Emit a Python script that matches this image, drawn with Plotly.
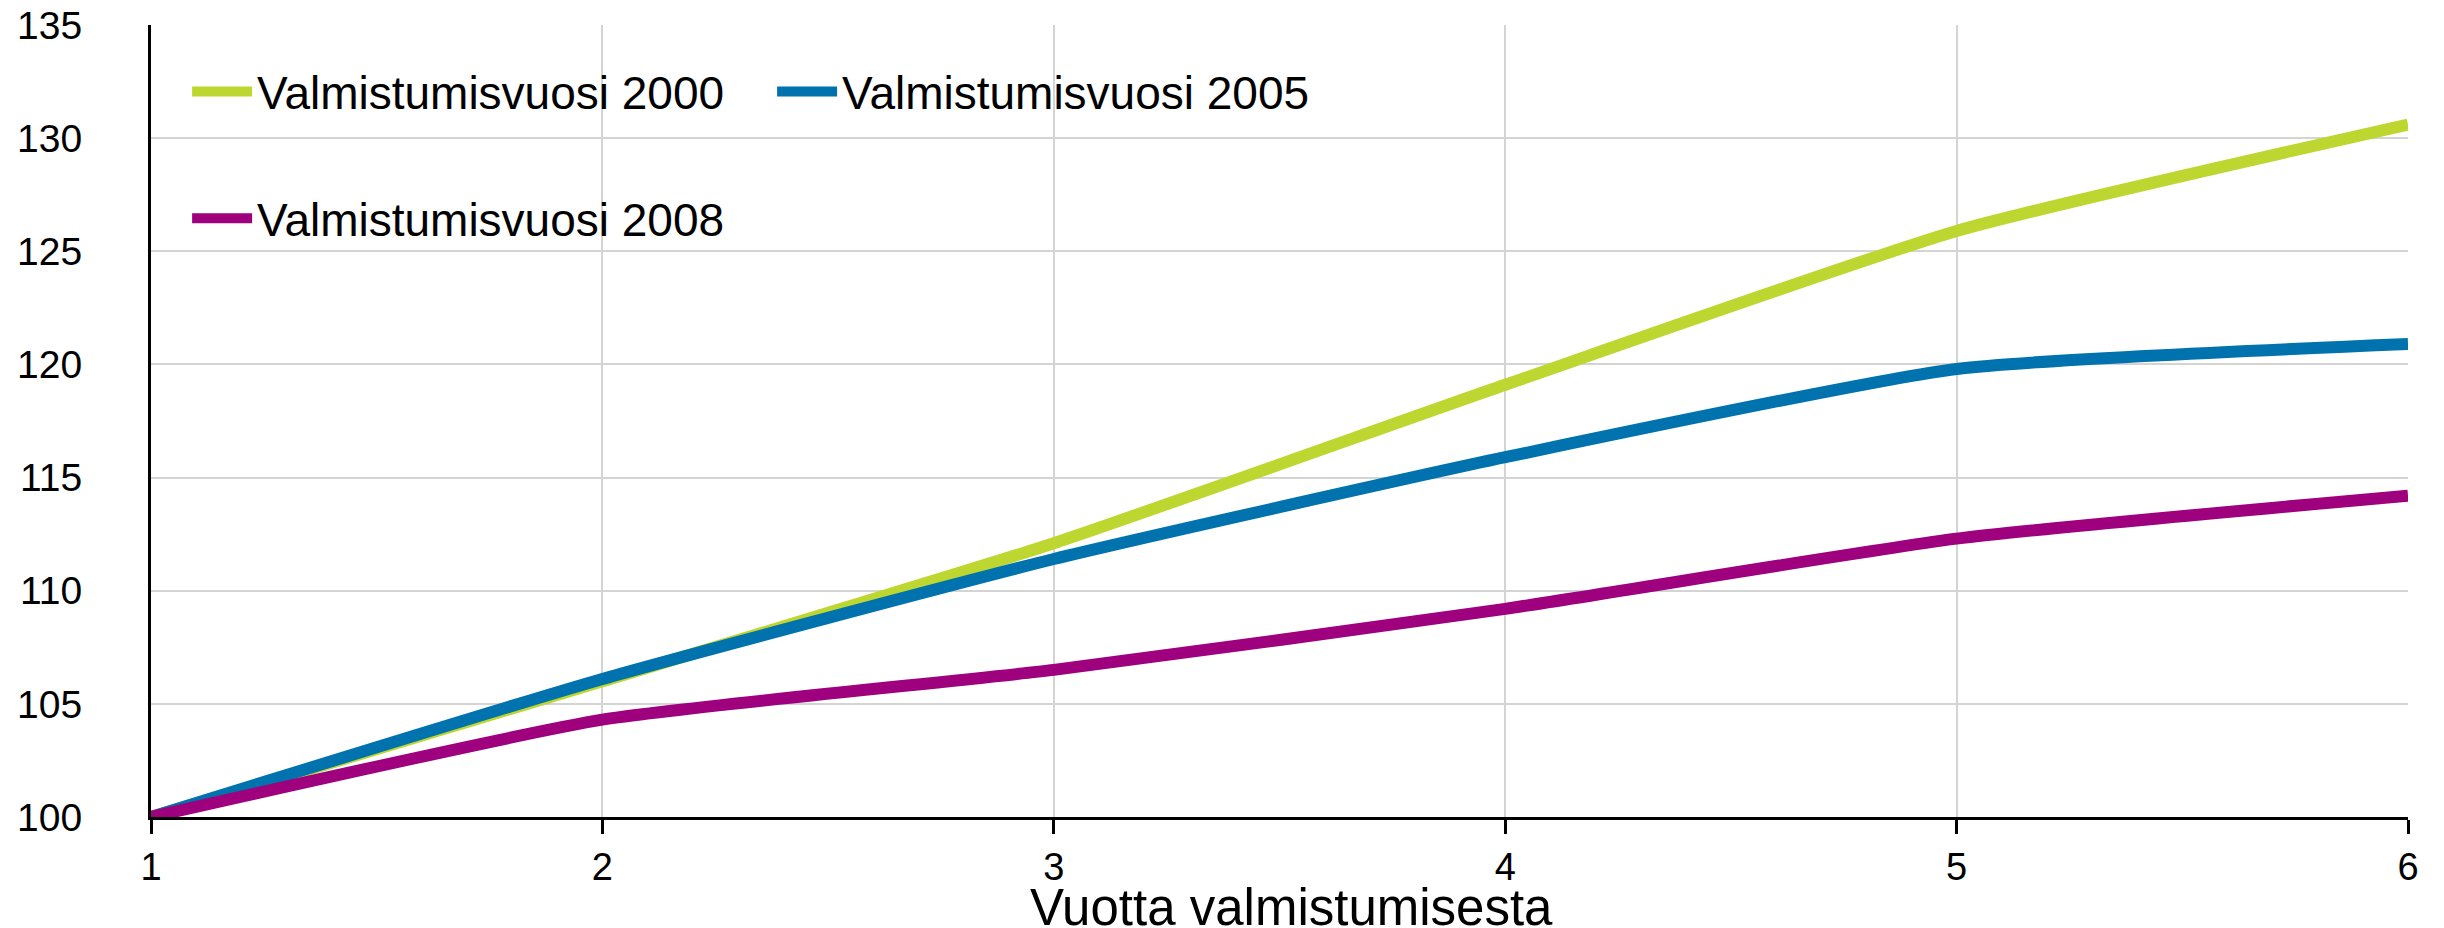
import plotly.graph_objects as go

years = [1, 2, 3, 4, 5, 6]
series_names = ["Valmistumisvuosi 2000", "Valmistumisvuosi 2005", "Valmistumisvuosi 2008"]
vals_2000 = [100, 106.0, 112.1, 119.1, 125.9, 130.6]
vals_2005 = [100, 106.1, 111.4, 115.9, 119.8, 120.9]
vals_2008 = [100, 104.3, 106.5, 109.2, 112.3, 114.2]
y_ticks = [100, 105, 110, 115, 120, 125, 130, 135]
x_title = "Vuotta valmistumisesta"

_GREEN = "#bdd730"
_BLUE = "#0072ae"
_PURPLE = "#9e007e"
_FONT = "Liberation Sans, Arial, sans-serif"

fig = go.Figure()
for name, vals, color, leg in [
    (series_names[0], vals_2000, _GREEN, "legend"),
    (series_names[1], vals_2005, _BLUE, "legend"),
    (series_names[2], vals_2008, _PURPLE, "legend2"),
]:
    fig.add_trace(go.Scatter(
        x=years,
        y=vals,
        mode="lines",
        name=name,
        legend=leg,
        line=dict(color=color, width=12, shape="spline", smoothing=0.5),
        cliponaxis=False,
    ))

leg_common = dict(
    font=dict(family=_FONT, size=46, color="#000000"),
    bgcolor="rgba(0,0,0,0)",
    xanchor="left",
    yanchor="middle",
    itemwidth=60,
)

# x title as an annotation so it can sit right under the tick labels
fig.add_annotation(
    text=x_title,
    xref="paper", yref="paper",
    x=0.5053, y=0,
    xanchor="center", yanchor="middle",
    yshift=-90,
    showarrow=False,
    font=dict(family=_FONT, size=51, color="#000000"),
)

# page body has an 8px margin, so the figure is a bit smaller than the window
fig.update_layout(
    width=2436,
    height=920,
    paper_bgcolor="white",
    plot_bgcolor="white",
    margin=dict(l=143, r=36, t=17, b=111),
    font=dict(family=_FONT, color="#000000"),
    showlegend=True,
    legend=dict(
        **leg_common,
        orientation="h",
        x=0.016,
        y=0.916,
        entrywidth=510,
        entrywidthmode="pixels",
    ),
    legend2=dict(
        **leg_common,
        x=0.016,
        y=0.756,
    ),
    xaxis=dict(
        range=[1, 6],
        tickvals=years,
        automargin=False,
        showgrid=True,
        gridcolor="#d4d4d4",
        gridwidth=2,
        showline=True,
        linecolor="#000000",
        linewidth=3,
        ticks="outside",
        ticklen=14,
        tickwidth=3,
        tickcolor="#000000",
        tickfont=dict(size=38),
        ticklabeloverflow="allow",
        zeroline=False,
    ),
    yaxis=dict(
        range=[100, 135],
        tickvals=y_ticks,
        automargin=False,
        showgrid=True,
        gridcolor="#d4d4d4",
        gridwidth=2,
        showline=True,
        linecolor="#000000",
        linewidth=3,
        ticks="",
        tickfont=dict(size=39),
        ticklabelstandoff=58,
        ticklabeloverflow="allow",
        zeroline=False,
    ),
)

fig.write_html("out.html")
